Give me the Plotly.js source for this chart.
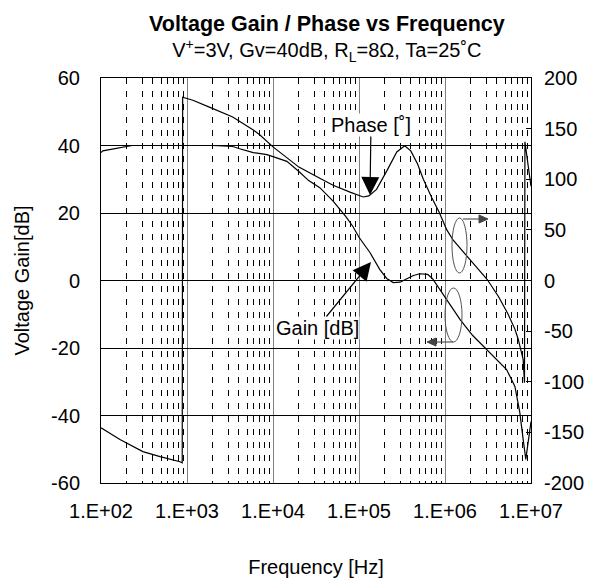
<!DOCTYPE html>
<html>
<head>
<meta charset="utf-8">
<script src="https://cdn.plot.ly/plotly-3.0.1.min.js"></script>
<style>html,body{margin:0;padding:0;background:#fff;}#chart{width:590px;height:582px;}</style>
</head>
<body>
<div id="chart"></div>
<script>
// ---- data ----
const gainFreq = [100,105,140,180,230,1000,2000,3400,4000,5900,8500,10000,14500,20000,26000,35000,50000,70000,85000,100000,134000,174000,210000,250000,300000,360000,430000,510000,630000,720000,870000,1050000,1500000,2100000,2900000,4000000,5200000,6500000,7400000,8100000,8700000,10000000];
const gainDb   = [37.9,38.4,39.0,39.6,40.0,40.0,40.0,39.7,39.1,37.9,37.3,36.7,35.3,32.3,29.6,27.5,23.5,19.0,16.0,12.8,8.3,3.3,0.6,-0.6,-0.5,0.5,1.5,2.0,1.8,0.5,-2.7,-5.5,-11.6,-16.3,-19.9,-23.4,-26.4,-31.4,-39,-47,-53,-41.8];

const phaseFreq = [100,166,307,486,830,880,890,1170,1850,3400,5900,7000,10000,20000,35000,50000,80000,112000,130000,160000,213000,275000,340000,400000,480000,560000,700000,850000,1050000,1240000,1800000,3100000,4200000,5400000,6500000,7100000,8100000,8400000,8500000,10000000];
const phaseDeg  = [-145.5,-157,-169,-174,-179,-180,181,178,171,161.5,148.6,144,132,112,101,94,87,82.5,83.5,90,109,127,133,128,115,100,82,68,50,40,24,1,-16,-33,-48,-58,-78,-101,137,93];

const xTickVals = [1e2,1e3,1e4,1e5,1e6,1e7];
const xTickText = ['1.E+02','1.E+03','1.E+04','1.E+05','1.E+06','1.E+07'];
const yTickVals = [-60,-40,-20,0,20,40,60];
const yTickText = ['-60','-40','-20','0','20','40','60'];
const y2TickVals = [-200,-150,-100,-50,0,50,100,150,200];
const y2TickText = ['-200','-150','-100','-50','0','50','100','150','200'];

// minor grid positions (2..9 per decade)
const minorVals = [];
for (let d = 2; d < 7; d++) for (let k = 2; k <= 9; k++) minorVals.push(k * Math.pow(10, d));

const FONT = 'Liberation Sans, Arial, sans-serif';

const traces = [
  {x: gainFreq, y: gainDb, type: 'scatter', mode: 'lines', name: 'Gain [dB]',
   line: {color: '#000', width: 1.2}, yaxis: 'y', showlegend: false},
  {x: phaseFreq, y: phaseDeg, type: 'scatter', mode: 'lines', name: 'Phase',
   line: {color: '#000', width: 1.2}, yaxis: 'y2', showlegend: false}
];

const W = 430, H = 405; // plot area px
function px(xp){ return (xp - 101) / W; }
function py(yp){ return (483 - yp) / H; }
function tri(tipX, tipY, dir, len, half){
  const bx = tipX - dir * len;
  return 'M ' + px(tipX) + ' ' + py(tipY) + ' L ' + px(bx) + ' ' + py(tipY - half) +
         ' L ' + px(bx) + ' ' + py(tipY + half) + ' Z';
}

const layout = {
  width: 590, height: 582,
  margin: {l: 101, r: 59, t: 78, b: 99},
  paper_bgcolor: '#fff', plot_bgcolor: '#fff',
  font: {family: FONT, size: 20, color: '#000'},
  showlegend: false,
  title: {
    text: '<span style="font-size:21.5px"><b>Voltage Gain / Phase vs Frequency</b></span><br>V<sup>+</sup>=3V, Gv=40dB, R<sub>L</sub>=8Ω, Ta=25˚C',
    font: {family: FONT, size: 20, color: '#000'},
    x: 0.554, xanchor: 'center', xref: 'container',
    y: 0.946, yanchor: 'top', yref: 'container'
  },
  xaxis: {
    type: 'log', range: [2, 7],
    tickmode: 'array', tickvals: xTickVals, ticktext: xTickText,
    ticks: '', showgrid: true, gridcolor: '#808080', gridwidth: 1,
    showline: true, linecolor: '#000', linewidth: 1, mirror: true,
    zeroline: false, ticklabelstandoff: 10,
    minor: {tickmode: 'array', tickvals: minorVals, showgrid: true, gridcolor: '#000',
            griddash: '6px,7px', gridwidth: 1, ticks: ''},
    title: {text: 'Frequency [Hz]', font: {family: FONT, size: 20}, standoff: 38}
  },
  yaxis: {
    range: [-60, 60], tickmode: 'array', tickvals: yTickVals, ticktext: yTickText,
    ticks: '', showgrid: true, gridcolor: '#000', gridwidth: 1,
    showline: true, linecolor: '#000', linewidth: 1, mirror: true,
    zeroline: false, ticklabelstandoff: 16,
    title: {text: 'Voltage Gain[dB]', font: {family: FONT, size: 20}, standoff: 16}
  },
  yaxis2: {
    overlaying: 'y', side: 'right', range: [-200, 200],
    tickmode: 'array', tickvals: y2TickVals, ticktext: y2TickText,
    ticks: 'inside', ticklen: 5, tickcolor: '#000', tickwidth: 1,
    showgrid: false, zeroline: false, showline: false, ticklabelstandoff: 12
  },
  shapes: [
    {type: 'circle', xref: 'paper', yref: 'paper', x0: px(452), x1: px(467), y0: py(273), y1: py(218),
     line: {color: '#555', width: 1}},
    {type: 'circle', xref: 'paper', yref: 'paper', x0: px(445), x1: px(462), y0: py(342), y1: py(288),
     line: {color: '#555', width: 1}},
    {type: 'line', xref: 'paper', yref: 'paper', x0: px(463), x1: px(482), y0: py(219), y1: py(219),
     line: {color: '#555', width: 1.2}},
    {type: 'path', xref: 'paper', yref: 'paper', path: tri(488, 219, 1, 9, 4),
     fillcolor: '#444', line: {color: '#444', width: 1}},
    {type: 'line', xref: 'paper', yref: 'paper', x0: px(433), x1: px(453), y0: py(342), y1: py(342),
     line: {color: '#555', width: 1.2}},
    {type: 'path', xref: 'paper', yref: 'paper', path: tri(427, 342, -1, 9, 4),
     fillcolor: '#444', line: {color: '#444', width: 1}}
  ],
  annotations: [
    {xref: 'paper', yref: 'paper', x: px(370), y: py(195), text: 'Phase [˚]', showarrow: true,
     ax: 1, ay: -70, bgcolor: '#fff', borderpad: 0, font: {family: FONT, size: 20},
     arrowhead: 2, arrowsize: 3, arrowwidth: 1.2, arrowcolor: '#000', standoff: 0},
    {xref: 'paper', yref: 'paper', x: px(371), y: py(262), text: 'Gain [dB]', showarrow: true,
     ax: -54, ay: 66, bgcolor: '#fff', borderpad: 0, font: {family: FONT, size: 20},
     arrowhead: 2, arrowsize: 3, arrowwidth: 1.2, arrowcolor: '#000', standoff: 0}
  ]
};

Plotly.newPlot('chart', traces, layout, {displayModeBar: false, staticPlot: true});
</script>
</body>
</html>
